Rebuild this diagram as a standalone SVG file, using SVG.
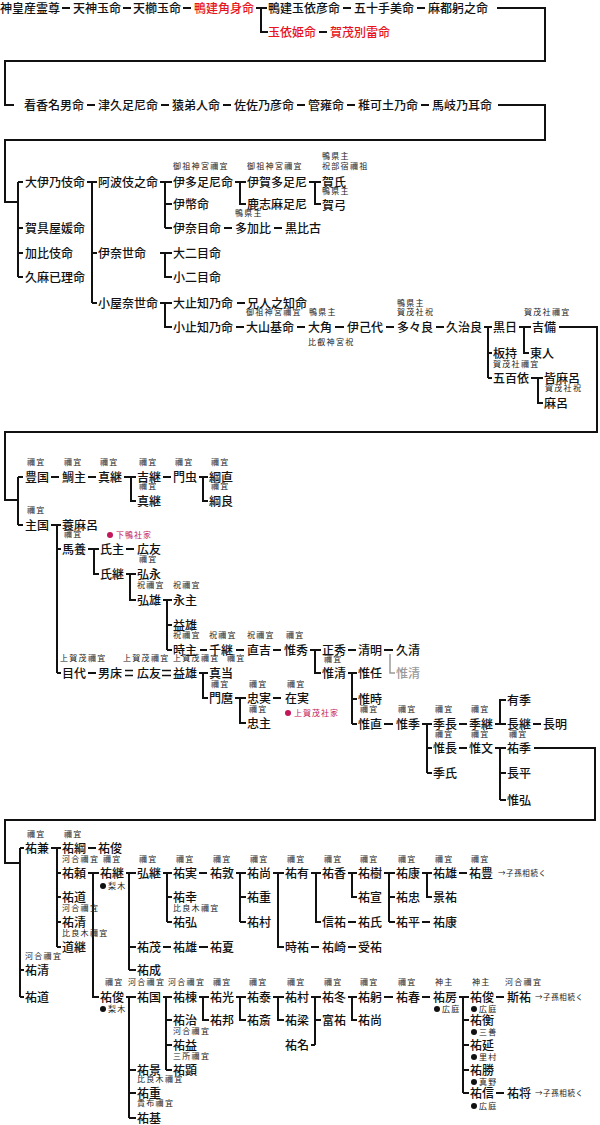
<svg xmlns="http://www.w3.org/2000/svg" width="600" height="1125" viewBox="0 0 600 1125">
<style>
text{font-family:"Noto Sans CJK JP","Noto Sans CJK SC",sans-serif;}
.n{font-size:12px;font-weight:500;fill:#111;}
.s{font-size:8px;letter-spacing:1.3px;fill:#222;}
.k{font-size:7.5px;letter-spacing:0.6px;fill:#222;}
.r{fill:#e8141c;}
.g{fill:#9a9a9a;}
.m{font-size:8px;letter-spacing:1px;fill:#c2185b;}
.c path{fill:none;stroke:#111;stroke-width:2;}
.c path.gl{stroke:#9a9a9a;stroke-width:1.5;}
.c path.dl{stroke-width:1.3;}
</style>
<rect width="600" height="1125" fill="#fff"/>
<g class="c" id="connectors">
<path d="M62 8H70M123 8H131M183 8H191M256 8H267M261 8V32H268M343 8H351M417 8H425M497 8H545V61H5V105H14M319 32H327"/>
<path d="M87 105H95M161 105H169M223 105H231M297 105H305M347 105H355M421 105H429M498 105H545V140H5V202H18"/>
<path d="M18 182V277M18 182H23M18 228H23M18 253H23M18 277H23M87 182H97M92 182V303M92 253H97M92 303H97M160 182H172M165 182V228M165 204H172M165 228H172M235 182H246M240 182V204H246M309 182H321M315 182V204H321M224 228H232M274 228H282M160 253H172M165 253V277H172M160 303H172M165 303V327H172M237 303H245M236 327H244M297 327H305M335 327H344M386 327H394M436 327H444M484 327H492M488 327V378M488 353H492M488 378H492M519 327H531M524 327V353H529M531 378H543M538 378V403H543M559 327H597V432H5V500H18"/>
<path d="M18 477V525M18 477H23M18 525H23M51 477H59M88 477H96M124 477H136M131 477V501H136M163 477H171M199 477H208M203 477V501H208M51 525H61M57 525V673M57 549H61M57 673H61M88 549H99M94 549V574H99M126 549H134M126 574H136M130 574V600H136M163 600H172M167 600V650M167 625H172M167 650H172M200 650H207M236 650H244M273 650H281M310 650H321M315 650V673H321M348 650H356M384 650H393M348 673H357M352 673V724M352 699H357M352 724H357M384 724H393M422 724H432M427 724V773M427 748H432M427 773H432M459 724H467M495 724H506M500 724V700H506M533 724H541M459 748H467M495 748H506M500 748V800M500 773H506M500 800H506M534 748H595V820H5V863H20M88 673H96M199 673H208M203 673V698H208M235 698H246M240 698V723H246M273 698H281"/>
<path class="dl" d="M125 670.5H133M125 675.5H133M162 670.5H171M162 675.5H171"/>
<path class="gl" d="M390 654V673H395"/>
<path d="M20 848V997M20 848H24M20 970H24M20 997H24M51 848H61M57 848V947M57 873H61M57 897H61M57 922H61M57 947H61M88 848H96M88 873H99M93 873V997H99M126 873H136M129 873V970M129 947H136M129 970H136M163 947H171M199 947H208M163 873H172M167 873V922M167 897H172M167 922H172M199 873H207M236 873H246M240 873V922M240 897H246M240 922H246M273 873H284M278 873V947H284M311 947H319M348 947H356M311 873H321M316 873V922H321M348 922H356M348 873H357M352 873V897H357M384 873H395M389 873V922M389 897H395M389 922H395M422 922H430M422 873H432M427 873V897H432M459 873H467"/>
<path d="M126 997H136M129 997V1118M129 1070H136M129 1093H136M129 1118H136M163 997H172M166 997V1070M166 1020H172M166 1045H172M166 1070H172M199 997H209M203 997V1020H209M236 997H246M240 997V1020H246M273 997H284M278 997V1020H284M311 997H321M315 997V1045M315 1020H321M311 1045H315M348 997H357M352 997V1020H357M384 997H393M422 997H430M459 997H469M463 997V1093M463 1020H469M463 1045H469M463 1070H469M463 1093H469M496 997H504M496 1093H504"/>
</g>
<g id="n001"><text class="n" x="0" y="12.5">神皇産霊尊</text></g>
<g id="n002"><text class="n" x="73" y="12.5">天神玉命</text></g>
<g id="n003"><text class="n" x="133" y="12.5">天櫛玉命</text></g>
<g id="n004"><text class="n r" x="194" y="12.5">鴨建角身命</text></g>
<g id="n005"><text class="n" x="268" y="12.5">鴨建玉依彦命</text></g>
<g id="n006"><text class="n" x="354" y="12.5">五十手美命</text></g>
<g id="n007"><text class="n" x="428" y="12.5">麻都躬之命</text></g>
<g id="n008"><text class="n r" x="268" y="36.5">玉依姫命</text></g>
<g id="n009"><text class="n r" x="330" y="36.5">賀茂別雷命</text></g>
<g id="n010"><text class="n" x="24" y="109.5">看香名男命</text></g>
<g id="n011"><text class="n" x="98" y="109.5">津久足尼命</text></g>
<g id="n012"><text class="n" x="172" y="109.5">猿弟人命</text></g>
<g id="n013"><text class="n" x="234" y="109.5">佐佐乃彦命</text></g>
<g id="n014"><text class="n" x="308" y="109.5">管雍命</text></g>
<g id="n015"><text class="n" x="358" y="109.5">稚可土乃命</text></g>
<g id="n016"><text class="n" x="432" y="109.5">馬岐乃耳命</text></g>
<g id="n017"><text class="n" x="25" y="186.5">大伊乃伎命</text></g>
<g id="n018"><text class="n" x="25" y="232.5">賀具屋媛命</text></g>
<g id="n019"><text class="n" x="25" y="257.5">加比伎命</text></g>
<g id="n020"><text class="n" x="25" y="281.5">久麻已理命</text></g>
<g id="n021"><text class="n" x="98" y="186.5">阿波伎之命</text></g>
<g id="n022"><text class="n" x="98" y="257.5">伊奈世命</text></g>
<g id="n023"><text class="n" x="98" y="307.5">小屋奈世命</text></g>
<g id="n024"><text class="s" x="173" y="169">御祖神宮禰宜</text><text class="n" x="173" y="186.5">伊多足尼命</text></g>
<g id="n025"><text class="n" x="173" y="208.5">伊幣命</text></g>
<g id="n026"><text class="n" x="173" y="232.5">伊奈目命</text></g>
<g id="n027"><text class="s" x="247" y="169">御祖神宮禰宜</text><text class="n" x="247" y="186.5">伊賀多足尼</text></g>
<g id="n028"><text class="n" x="247" y="208.5">鹿志麻足尼</text></g>
<g id="n029"><text class="s" x="322" y="159">鴨県主</text><text class="s" x="322" y="169">祝部宿禰祖</text><text class="n" x="322" y="186.5">賀氏</text></g>
<g id="n030"><text class="s" x="322" y="194">鴨県主</text><text class="n" x="322" y="209.5">賀弓</text></g>
<g id="n031"><text class="s" x="235" y="216">鴨県主</text><text class="n" x="235" y="232.5">多加比</text></g>
<g id="n032"><text class="n" x="285" y="232.5">黒比古</text></g>
<g id="n033"><text class="n" x="173" y="257.5">大二目命</text></g>
<g id="n034"><text class="n" x="173" y="281.5">小二目命</text></g>
<g id="n035"><text class="n" x="173" y="307.5">大止知乃命</text></g>
<g id="n036"><text class="n" x="247" y="307.5">兄人之知命</text></g>
<g id="n037"><text class="n" x="173" y="331.5">小止知乃命</text></g>
<g id="n038"><text class="s" x="246" y="315">御祖神宮禰宜</text><text class="n" x="246" y="331.5">大山基命</text></g>
<g id="n039"><text class="s" x="309" y="315">鴨県主</text><text class="n" x="308" y="331.5">大角</text><text class="s" x="308" y="345">比叡神宮祝</text></g>
<g id="n040"><text class="n" x="347" y="331.5">伊己代</text></g>
<g id="n041"><text class="s" x="397" y="306">鴨県主</text><text class="s" x="397" y="315">賀茂社祝</text><text class="n" x="397" y="331.5">多々良</text></g>
<g id="n042"><text class="n" x="446" y="331.5">久治良</text></g>
<g id="n043"><text class="n" x="493" y="331.5">黒日</text></g>
<g id="n044"><text class="n" x="493" y="357.5">板持</text><text class="s" x="493" y="367">賀茂社禰宜</text></g>
<g id="n045"><text class="n" x="493" y="382.5">五百依</text></g>
<g id="n046"><text class="s" x="524" y="315">賀茂社禰宜</text><text class="n" x="532" y="331.5">吉備</text></g>
<g id="n047"><text class="n" x="530" y="357.5">東人</text></g>
<g id="n048"><text class="n" x="544" y="382.5">皆麻呂</text></g>
<g id="n049"><text class="s" x="545" y="391">賀茂社祝</text><text class="n" x="544" y="407.5">麻呂</text></g>
<g id="n050"><text class="s" x="27" y="465">禰宜</text><text class="n" x="25" y="481.5">豊国</text></g>
<g id="n051"><text class="s" x="64" y="465">禰宜</text><text class="n" x="62" y="481.5">鯛主</text></g>
<g id="n052"><text class="s" x="100" y="465">禰宜</text><text class="n" x="98" y="481.5">真継</text></g>
<g id="n053"><text class="s" x="139" y="465">禰宜</text><text class="n" x="137" y="481.5">吉継</text></g>
<g id="n054"><text class="s" x="139" y="489">禰宜</text><text class="n" x="137" y="505.5">真継</text></g>
<g id="n055"><text class="s" x="175" y="465">禰宜</text><text class="n" x="173" y="481.5">門虫</text></g>
<g id="n056"><text class="s" x="211" y="465">禰宜</text><text class="n" x="209" y="481.5">綱直</text></g>
<g id="n057"><text class="s" x="211" y="489">禰宜</text><text class="n" x="209" y="505.5">綱良</text></g>
<g id="n058"><text class="s" x="27" y="513">禰宜</text><text class="n" x="25" y="529.5">主国</text></g>
<g id="n059"><text class="n" x="62" y="529.5">蓑麻呂</text></g>
<g id="n060"><text class="s" x="64" y="537">禰宜</text><text class="n" x="62" y="553.5">馬養</text></g>
<g id="n061"><text class="s" x="60" y="661">上賀茂禰宜</text><text class="n" x="62" y="677.5">目代</text></g>
<g id="n062"><text class="n" x="100" y="553.5">氏主</text></g>
<g id="n063"><text class="n" x="137" y="553.5">広友</text></g>
<g id="n064"><circle cx="110" cy="535" r="3" fill="#c2185b"/><text class="m" x="116" y="538">下鴨社家</text></g>
<g id="n065"><text class="n" x="100" y="578.5">氏継</text></g>
<g id="n066"><text class="s" x="139" y="562">禰宜</text><text class="n" x="137" y="578.5">弘永</text></g>
<g id="n067"><text class="s" x="137" y="588">祝禰宜</text><text class="n" x="137" y="604.5">弘雄</text></g>
<g id="n068"><text class="s" x="173" y="588">祝禰宜</text><text class="n" x="173" y="604.5">永主</text></g>
<g id="n069"><text class="n" x="173" y="629.5">益雄</text></g>
<g id="n070"><text class="s" x="173" y="638">祝禰宜</text><text class="n" x="173" y="654.5">時主</text></g>
<g id="n071"><text class="s" x="209" y="638">祝禰宜</text><text class="n" x="209" y="654.5">千継</text></g>
<g id="n072"><text class="s" x="247" y="638">祝禰宜</text><text class="n" x="247" y="654.5">直吉</text></g>
<g id="n073"><text class="s" x="286" y="638">禰宜</text><text class="n" x="284" y="654.5">惟秀</text></g>
<g id="n074"><text class="n" x="322" y="654.5">正秀</text></g>
<g id="n075"><text class="n" x="358" y="654.5">清明</text></g>
<g id="n076"><text class="n" x="396" y="654.5">久清</text></g>
<g id="n077"><text class="n g" x="396" y="677.5">惟清</text></g>
<g id="n078"><text class="s" x="324" y="662">禰宜</text><text class="n" x="322" y="677.5">惟清</text></g>
<g id="n079"><text class="n" x="358" y="677.5">惟任</text></g>
<g id="n080"><text class="n" x="358" y="703.5">惟時</text></g>
<g id="n081"><text class="s" x="360" y="712">禰宜</text><text class="n" x="358" y="728.5">惟直</text></g>
<g id="n082"><text class="s" x="398" y="712">禰宜</text><text class="n" x="396" y="728.5">惟季</text></g>
<g id="n083"><text class="s" x="435" y="712">禰宜</text><text class="n" x="433" y="728.5">季長</text></g>
<g id="n084"><text class="s" x="471" y="712">禰宜</text><text class="n" x="469" y="728.5">季継</text></g>
<g id="n085"><text class="n" x="507" y="704.5">有季</text></g>
<g id="n086"><text class="n" x="507" y="728.5">長継</text></g>
<g id="n087"><text class="n" x="543" y="728.5">長明</text></g>
<g id="n088"><text class="s" x="435" y="737">禰宜</text><text class="n" x="433" y="752.5">惟長</text></g>
<g id="n089"><text class="s" x="471" y="737">禰宜</text><text class="n" x="469" y="752.5">惟文</text></g>
<g id="n090"><text class="s" x="509" y="737">禰宜</text><text class="n" x="507" y="752.5">祐季</text></g>
<g id="n091"><text class="n" x="507" y="777.5">長平</text></g>
<g id="n092"><text class="n" x="507" y="804.5">惟弘</text></g>
<g id="n093"><text class="n" x="433" y="777.5">季氏</text></g>
<g id="n094"><text class="n" x="98" y="677.5">男床</text></g>
<g id="n095"><text class="s" x="123" y="661">上賀茂禰宜</text><text class="n" x="137" y="677.5">広友</text></g>
<g id="n096"><text class="s" x="173" y="661">上賀茂禰宜</text><text class="n" x="173" y="677.5">益雄</text></g>
<g id="n097"><text class="s" x="227" y="661">禰宜</text><text class="n" x="209" y="677.5">真当</text></g>
<g id="n098"><text class="s" x="211" y="687">禰宜</text><text class="n" x="209" y="702.5">門麿</text></g>
<g id="n099"><text class="s" x="249" y="687">禰宜</text><text class="n" x="247" y="702.5">忠実</text></g>
<g id="n100"><text class="s" x="249" y="712">禰宜</text><text class="n" x="247" y="727.5">忠主</text></g>
<g id="n101"><text class="s" x="287" y="687">禰宜</text><text class="n" x="285" y="702.5">在実</text></g>
<g id="n102"><circle cx="288" cy="713" r="3" fill="#c2185b"/><text class="m" x="294" y="716">上賀茂社家</text></g>
<g id="n103"><text class="s" x="27" y="837">禰宜</text><text class="n" x="25" y="852.5">祐兼</text></g>
<g id="n104"><text class="s" x="64" y="837">禰宜</text><text class="n" x="62" y="852.5">祐綱</text></g>
<g id="n105"><text class="n" x="98" y="852.5">祐俊</text></g>
<g id="n106"><text class="s" x="62" y="862">河合禰宜</text><text class="n" x="62" y="877.5">祐頼</text></g>
<g id="n107"><text class="n" x="62" y="901.5">祐道</text></g>
<g id="n108"><text class="s" x="62" y="911">河合禰宜</text><text class="n" x="62" y="926.5">祐清</text></g>
<g id="n109"><text class="s" x="62" y="936">比良木禰宜</text><text class="n" x="62" y="951.5">道継</text></g>
<g id="n110"><text class="s" x="103" y="862">禰宜</text><text class="n" x="100" y="877.5">祐継</text><circle cx="103" cy="886" r="3" fill="#111"/><text class="s" x="108" y="889">梨木</text></g>
<g id="n111"><text class="s" x="105" y="985">禰宜</text><text class="n" x="100" y="1001.5">祐俊</text><circle cx="103" cy="1009" r="3" fill="#111"/><text class="s" x="108" y="1012">梨木</text></g>
<g id="n112"><text class="s" x="139" y="862">禰宜</text><text class="n" x="137" y="877.5">弘継</text></g>
<g id="n113"><text class="n" x="137" y="951.5">祐茂</text></g>
<g id="n114"><text class="n" x="173" y="951.5">祐雄</text></g>
<g id="n115"><text class="n" x="210" y="951.5">祐夏</text></g>
<g id="n116"><text class="n" x="137" y="974.5">祐成</text></g>
<g id="n117"><text class="s" x="176" y="862">禰宜</text><text class="n" x="173" y="877.5">祐実</text></g>
<g id="n118"><text class="n" x="173" y="901.5">祐幸</text></g>
<g id="n119"><text class="s" x="173" y="911">比良木禰宜</text><text class="n" x="173" y="926.5">祐弘</text></g>
<g id="n120"><text class="s" x="213" y="862">禰宜</text><text class="n" x="210" y="877.5">祐敦</text></g>
<g id="n121"><text class="s" x="250" y="862">禰宜</text><text class="n" x="247" y="877.5">祐尚</text></g>
<g id="n122"><text class="n" x="247" y="901.5">祐重</text></g>
<g id="n123"><text class="n" x="247" y="926.5">祐村</text></g>
<g id="n124"><text class="s" x="287" y="862">禰宜</text><text class="n" x="285" y="877.5">祐有</text></g>
<g id="n125"><text class="n" x="285" y="951.5">時祐</text></g>
<g id="n126"><text class="n" x="322" y="951.5">祐崎</text></g>
<g id="n127"><text class="n" x="358" y="951.5">受祐</text></g>
<g id="n128"><text class="s" x="324" y="862">禰宜</text><text class="n" x="322" y="877.5">祐香</text></g>
<g id="n129"><text class="n" x="322" y="926.5">信祐</text></g>
<g id="n130"><text class="n" x="358" y="926.5">祐氏</text></g>
<g id="n131"><text class="s" x="360" y="862">禰宜</text><text class="n" x="358" y="877.5">祐樹</text></g>
<g id="n132"><text class="n" x="358" y="901.5">祐宣</text></g>
<g id="n133"><text class="s" x="398" y="862">禰宜</text><text class="n" x="396" y="877.5">祐康</text></g>
<g id="n134"><text class="n" x="396" y="901.5">祐忠</text></g>
<g id="n135"><text class="n" x="396" y="926.5">祐平</text></g>
<g id="n136"><text class="n" x="433" y="926.5">祐康</text></g>
<g id="n137"><text class="s" x="435" y="862">禰宜</text><text class="n" x="433" y="877.5">祐雄</text></g>
<g id="n138"><text class="n" x="433" y="901.5">景祐</text></g>
<g id="n139"><text class="s" x="471" y="862">禰宜</text><text class="n" x="469" y="877.5">祐豊</text><text class="k" x="498" y="876">→子孫相続く</text></g>
<g id="n140"><text class="s" x="25" y="959">河合禰宜</text><text class="n" x="25" y="974.5">祐清</text></g>
<g id="n141"><text class="n" x="25" y="1001.5">祐道</text></g>
<g id="n142"><text class="s" x="128" y="985">河合禰宜</text><text class="n" x="137" y="1001.5">祐国</text></g>
<g id="n143"><text class="n" x="137" y="1074.5">祐景</text></g>
<g id="n144"><text class="s" x="137" y="1082">比良木禰宜</text><text class="n" x="137" y="1097.5">祐重</text></g>
<g id="n145"><text class="s" x="137" y="1106">貴布禰宜</text><text class="n" x="137" y="1122.5">祐基</text></g>
<g id="n146"><text class="s" x="168" y="985">河合禰宜</text><text class="n" x="173" y="1001.5">祐棟</text></g>
<g id="n147"><text class="n" x="173" y="1024.5">祐治</text></g>
<g id="n148"><text class="s" x="173" y="1034">河合禰宜</text><text class="n" x="173" y="1049.5">祐益</text></g>
<g id="n149"><text class="s" x="173" y="1059">三所禰宜</text><text class="n" x="173" y="1074.5">祐顕</text></g>
<g id="n150"><text class="s" x="213" y="985">禰宜</text><text class="n" x="210" y="1001.5">祐光</text></g>
<g id="n151"><text class="n" x="210" y="1024.5">祐邦</text></g>
<g id="n152"><text class="s" x="249" y="985">禰宜</text><text class="n" x="247" y="1001.5">祐泰</text></g>
<g id="n153"><text class="n" x="247" y="1024.5">祐斎</text></g>
<g id="n154"><text class="s" x="287" y="985">禰宜</text><text class="n" x="285" y="1001.5">祐村</text></g>
<g id="n155"><text class="n" x="285" y="1024.5">祐梁</text></g>
<g id="n156"><text class="n" x="285" y="1049.5">祐名</text></g>
<g id="n157"><text class="s" x="324" y="985">禰宜</text><text class="n" x="322" y="1001.5">祐冬</text></g>
<g id="n158"><text class="n" x="322" y="1024.5">富祐</text></g>
<g id="n159"><text class="s" x="360" y="985">禰宜</text><text class="n" x="358" y="1001.5">祐躬</text></g>
<g id="n160"><text class="n" x="358" y="1024.5">祐尚</text></g>
<g id="n161"><text class="s" x="398" y="985">禰宜</text><text class="n" x="396" y="1001.5">祐春</text></g>
<g id="n162"><text class="s" x="435" y="985">神主</text><text class="n" x="433" y="1001.5">祐房</text><circle cx="437" cy="1009" r="3" fill="#111"/><text class="s" x="442" y="1012">広庭</text></g>
<g id="n163"><text class="s" x="472" y="985">神主</text><text class="n" x="470" y="1001.5">祐俊</text><circle cx="474" cy="1009" r="3" fill="#111"/><text class="s" x="479" y="1012">広庭</text></g>
<g id="n164"><text class="n" x="470" y="1024.5">祐衡</text><circle cx="474" cy="1032" r="3" fill="#111"/><text class="s" x="479" y="1035">三善</text></g>
<g id="n165"><text class="n" x="470" y="1049.5">祐延</text><circle cx="474" cy="1057" r="3" fill="#111"/><text class="s" x="479" y="1060">里村</text></g>
<g id="n166"><text class="n" x="470" y="1074.5">祐勝</text><circle cx="474" cy="1082" r="3" fill="#111"/><text class="s" x="479" y="1085">真野</text></g>
<g id="n167"><text class="n" x="470" y="1097.5">祐信</text><circle cx="474" cy="1106" r="3" fill="#111"/><text class="s" x="479" y="1109">広庭</text></g>
<g id="n168"><text class="s" x="505" y="985">河合禰宜</text><text class="n" x="507" y="1001.5">斯祐</text><text class="k" x="535" y="1000">→子孫相続く</text></g>
<g id="n169"><text class="n" x="507" y="1097.5">祐将</text><text class="k" x="535" y="1096">→子孫相続く</text></g>
</svg>
